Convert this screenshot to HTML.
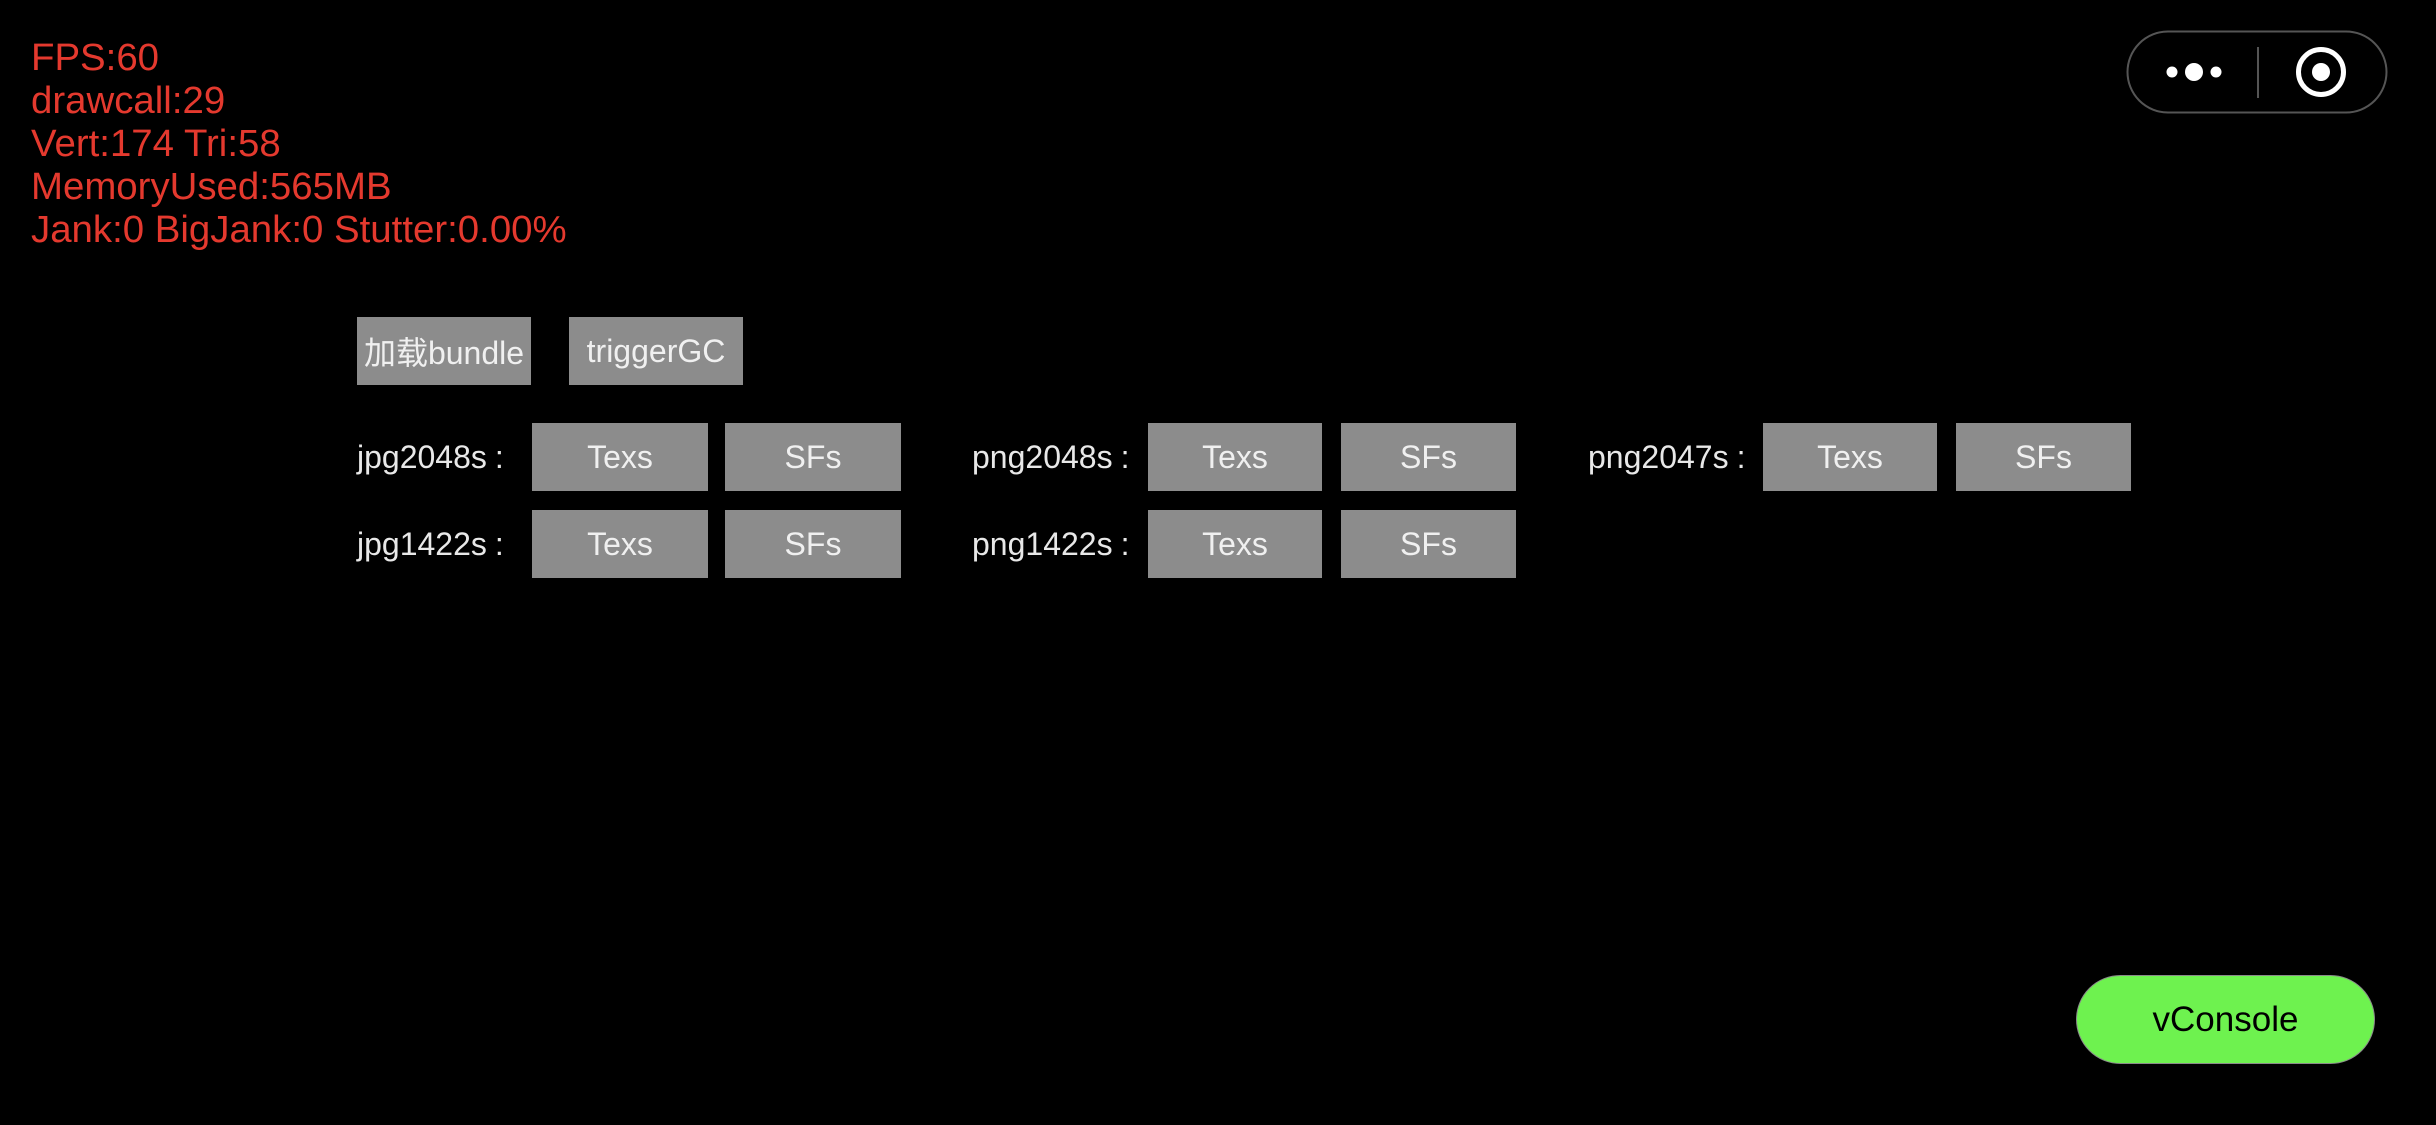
<!DOCTYPE html>
<html><head><meta charset="utf-8"><style>
html,body{margin:0;padding:0;background:#000;width:2436px;height:1125px;overflow:hidden;position:relative;font-family:"Liberation Sans","Noto Sans CJK SC",sans-serif}
.stat{position:absolute;left:31px;color:#e4392e;font-size:38.4px;line-height:43px;white-space:nowrap}
.b{position:absolute;background:#8c8c8c;color:#f0f0f0;font-size:32px;display:flex;align-items:center;justify-content:center;white-space:nowrap}
.l{position:absolute;color:#e8e8e8;font-size:32px;white-space:nowrap;line-height:68px;height:68px}
.l span{margin-left:8px}
</style></head><body>
<div class="stat" style="top:36px">FPS:60<br>drawcall:29<br>Vert:174 Tri:58<br>MemoryUsed:565MB<br>Jank:0 BigJank:0 Stutter:0.00%</div>

<div class="b" style="left:357px;top:317px;width:174px;height:68px">加载bundle</div>
<div class="b" style="left:569px;top:317px;width:174px;height:68px">triggerGC</div>

<div class="l" style="left:357px;top:423px">jpg2048s<span>:</span></div>
<div class="b" style="left:532px;top:423px;width:176px;height:68px">Texs</div>
<div class="b" style="left:725px;top:423px;width:176px;height:68px">SFs</div>
<div class="l" style="left:972px;top:423px">png2048s<span>:</span></div>
<div class="b" style="left:1148px;top:423px;width:174px;height:68px">Texs</div>
<div class="b" style="left:1341px;top:423px;width:175px;height:68px">SFs</div>
<div class="l" style="left:1588px;top:423px">png2047s<span>:</span></div>
<div class="b" style="left:1763px;top:423px;width:174px;height:68px">Texs</div>
<div class="b" style="left:1956px;top:423px;width:175px;height:68px">SFs</div>

<div class="l" style="left:357px;top:510px">jpg1422s<span>:</span></div>
<div class="b" style="left:532px;top:510px;width:176px;height:68px">Texs</div>
<div class="b" style="left:725px;top:510px;width:176px;height:68px">SFs</div>
<div class="l" style="left:972px;top:510px">png1422s<span>:</span></div>
<div class="b" style="left:1148px;top:510px;width:174px;height:68px">Texs</div>
<div class="b" style="left:1341px;top:510px;width:175px;height:68px">SFs</div>

<svg style="position:absolute;left:0;top:0" width="2436" height="1125">
<rect x="2127.5" y="31.5" width="259" height="81" rx="40.5" fill="none" stroke="#555" stroke-width="2"/>
<circle cx="2172" cy="72" r="5.5" fill="#fff"/>
<circle cx="2194" cy="72" r="9" fill="#fff"/>
<circle cx="2216" cy="72" r="5.5" fill="#fff"/>
<line x1="2258" y1="47" x2="2258" y2="98" stroke="#555" stroke-width="2"/>
<circle cx="2321" cy="72" r="22.5" fill="none" stroke="#fff" stroke-width="5"/>
<circle cx="2321" cy="72" r="9" fill="#fff"/>
</svg>

<div style="position:absolute;left:2076px;top:975px;width:297px;height:87px;border-radius:45px;background:#6ef24f;border:1px solid #8a8a8a;display:flex;align-items:center;justify-content:center;font-size:35px;color:#000">vConsole</div>
</body></html>
